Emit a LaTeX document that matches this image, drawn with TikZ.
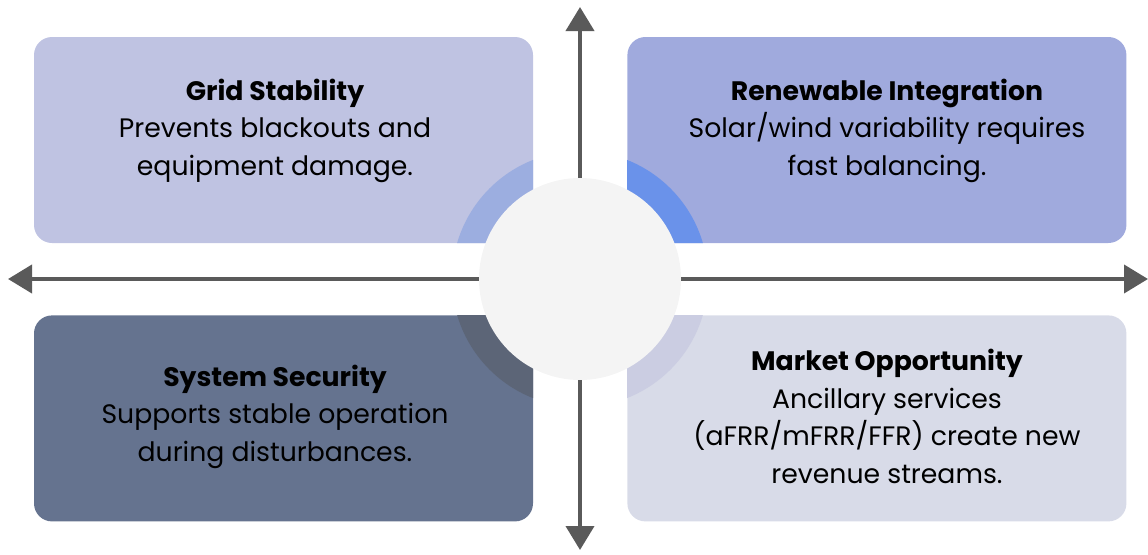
\documentclass[tikz,border=0pt]{standalone}
\usepackage{fontspec}
\setmainfont{Poppins}
\usetikzlibrary{arrows.meta, positioning}
\definecolor{gridfill}{HTML}{BFC3E2}
\definecolor{gridring}{HTML}{9CAEE0}
\definecolor{renewfill}{HTML}{A0AADD}
\definecolor{renewring}{HTML}{6A92EA}
\definecolor{securefill}{HTML}{65738F}
\definecolor{securering}{HTML}{5C6577}
\definecolor{marketfill}{HTML}{D8DBE8}
\definecolor{marketring}{HTML}{CBCDE2}
\definecolor{hubfill}{HTML}{F4F4F4}
\definecolor{axisgray}{HTML}{5A5A5A}
\tikzstyle{quadrant} = [rectangle, rounded corners=18pt, minimum width=499pt, minimum height=206pt, inner sep=0pt]
\tikzstyle{blurb} = [align=center, anchor=base, text=black, font=\fontsize{26.7}{37.5}\selectfont]
\tikzstyle{axis} = [line width=4pt, draw=axisgray, -{Triangle[length=24pt, width=28pt]}]
\newcommand\ringsize{128pt}

\begin{document}
\begin{tikzpicture}[x=1pt, y=-1pt]
\useasboundingbox (0,0) rectangle (1148,554);
% Placement of quadrant boxes
\node (grid) [quadrant, fill=gridfill] at (283.5,140) {};
\node (renew) [quadrant, fill=renewfill, right=94pt of grid] {};
\node (secure) [quadrant, fill=securefill, below=72pt of grid] {};
\node (market) [quadrant, fill=marketfill, right=94pt of secure] {};

% Centre coordinate
\coordinate (hub) at (580,279);

% Ring pieces inside each box
\foreach \tile/\ring in {grid/gridring, renew/renewring, secure/securering, market/marketring} {
  \begin{scope}
    \clip [rounded corners=18pt] (\tile.north west) rectangle (\tile.south east);
    \fill [\ring] (hub) circle (\ringsize);
  \end{scope}
}

% Axes
\coordinate (top) at (580,7);
\coordinate (bottom) at (580,550);
\coordinate (left) at (8,279);
\coordinate (right) at (1148,279);
\draw [axis] (hub) -- (top);
\draw [axis] (hub) -- (bottom);
\draw [axis] (hub) -- (left);
\draw [axis] (hub) -- (right);

% Centre circle
\node (centre) [circle, fill=hubfill, minimum size=202pt, inner sep=0pt] at (hub) {};

% Texts (anchored at the baseline of the last line)
\node (gridText) [blurb] at (275,175) {\textbf{Grid Stability}\\Prevents blackouts and\\equipment damage.};
\node (renewText) [blurb] at (887,175) {\textbf{Renewable Integration}\\Solar/wind variability requires\\fast balancing.};
\node (secureText) [blurb] at (275,461) {\textbf{System Security}\\Supports stable operation\\during disturbances.};
\node (marketText) [blurb] at (887,483) {\textbf{Market Opportunity}\\Ancillary services\\(aFRR/mFRR/FFR) create new\\revenue streams.};
\end{tikzpicture}
\end{document}
